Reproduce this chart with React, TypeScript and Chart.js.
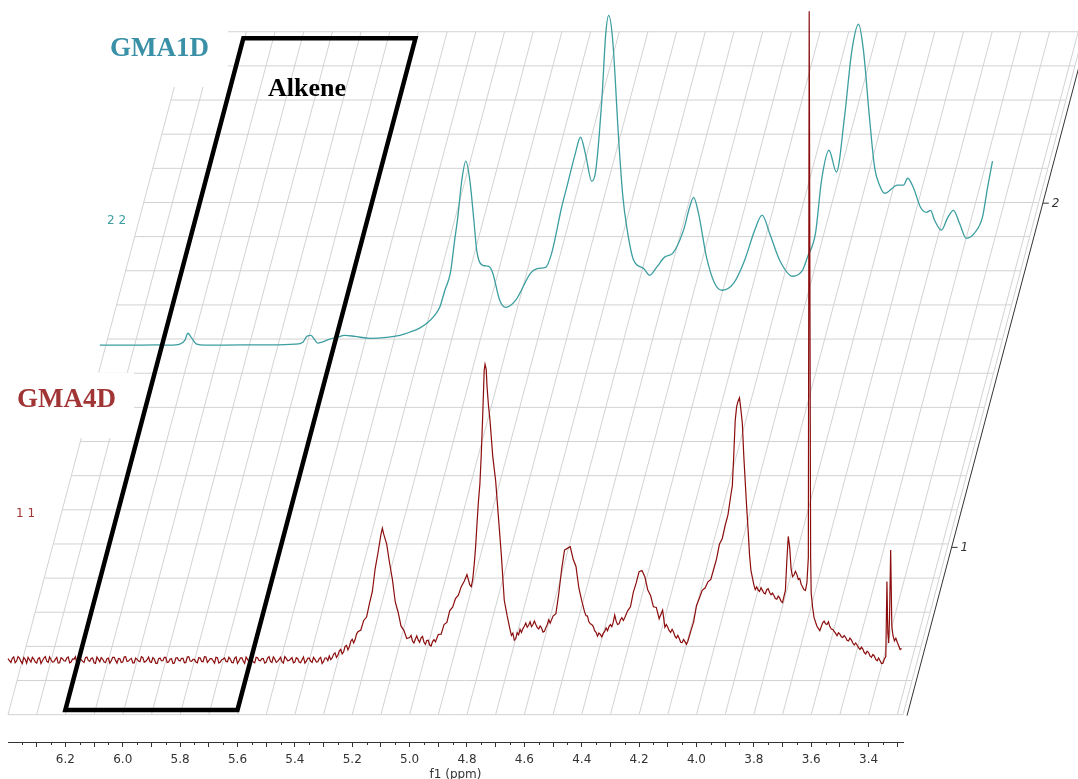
import { useEffect, useRef } from 'react';
import { Chart, registerables } from 'chart.js';

Chart.register(...registerables);

// f1 chemical-shift window (ppm), drawn high → low from left to right
const PPM_MAX = 6.4;
const PPM_MIN = 3.28;

// intensity window of the front trace (baseline = 0)
const INT_MIN = -0.24;
const INT_MAX = 1.933;

// stacking offset of the second trace (depth direction)
const STACK_SHIFT_PPM = 0.317;
const STACK_SHIFT_INT = 0.922;

// x-axis ticks
const MAJOR_TICKS = [6.3, 6.2, 6.1, 6.0, 5.9, 5.8, 5.7, 5.6, 5.5, 5.4, 5.3, 5.2, 5.1, 5.0, 4.9, 4.8, 4.7, 4.6, 4.5, 4.4, 4.3, 4.2, 4.1, 4.0, 3.9, 3.8, 3.7, 3.6, 3.5, 3.4, 3.3];
const MINOR_TICKS = [6.35, 6.25, 6.15, 6.05, 5.95, 5.85, 5.75, 5.65, 5.55, 5.45, 5.35, 5.25, 5.15, 5.05, 4.95, 4.85, 4.75, 4.65, 4.55, 4.45, 4.35, 4.25, 4.15, 4.05, 3.95, 3.85, 3.75, 3.65, 3.55, 3.45, 3.35];
const TICK_LABELS = ['6.2', '6.0', '5.8', '5.6', '5.4', '5.2', '5.0', '4.8', '4.6', '4.4', '4.2', '4.0', '3.8', '3.6', '3.4'];

// stacked-plot floor grid: columns in ppm, rows in intensity
const GRID_COLUMNS = [6.4, ...MAJOR_TICKS, 3.28];
const GRID_ROWS = [-0.16, -0.06, 0.04, 0.14, 0.24, 0.34, 0.44, 0.54, 0.64, 0.74, 0.84, 0.94, 1.04, 1.14, 1.24, 1.34, 1.44, 1.54, 1.64, 1.74, 1.84];

// depth axis on the right
const STACK_LABELS = ['1', '2'];
const STACK_TICK_LEVELS = [0.33, 1.338];

// highlighted alkene window
const ALKENE_PPM = [6.2, 5.6];
const ALKENE_INT = [-0.146, 1.821];

// GMA4D spectrum (front), [ppm, intensity]
const GMA4D: [number, number][] = [
  [6.400, .004], [6.395, -.002], [6.390, -.007], [6.385, .005], [6.380, .009], [6.375, -.008], [6.370, -.003], [6.365, .010], [6.360, .006], [6.355, -.004],
  [6.350, -.010], [6.345, .007], [6.340, .002], [6.335, -.009], [6.330, .008], [6.325, .001], [6.320, -.006], [6.315, .008], [6.310, .003], [6.305, -.006],
  [6.300, -.009], [6.295, .004], [6.290, .007], [6.285, -.010], [6.280, -.002], [6.275, .006], [6.270, .010], [6.265, -.003], [6.260, -.007], [6.255, .009],
  [6.250, .001], [6.245, -.006], [6.240, -.005], [6.235, .002], [6.230, .008], [6.225, -.009], [6.220, -.008], [6.215, .007], [6.210, .004], [6.205, -.002],
  [6.200, -.003], [6.195, .006], [6.190, .009], [6.185, -.008], [6.180, -.006], [6.175, .003], [6.170, .002], [6.165, .010], [6.160, -.010], [6.155, -.005],
  [6.150, .006], [6.145, .001], [6.140, -.004], [6.135, -.007], [6.130, .007], [6.125, .009], [6.120, -.001], [6.115, -.004], [6.110, .005], [6.105, .006],
  [6.100, -.008], [6.095, -.010], [6.090, .009], [6.085, .002], [6.080, -.005], [6.075, .007], [6.070, .003], [6.065, -.006], [6.060, -.007], [6.055, .004],
  [6.050, .006], [6.045, -.009], [6.040, -.002], [6.035, .008], [6.030, .008], [6.025, -.001], [6.020, -.009], [6.015, .005], [6.010, .004], [6.005, -.007],
  [6.000, -.006], [5.995, .009], [5.990, .010], [5.985, -.004], [5.980, -.003], [5.975, .002], [5.970, .005], [5.965, -.008], [5.960, -.008], [5.955, .006],
  [5.950, .002], [5.945, -.003], [5.940, -.005], [5.935, .010], [5.930, .007], [5.925, -.006], [5.920, -.004], [5.915, .001], [5.910, .009], [5.905, -.005],
  [5.900, -.007], [5.895, .007], [5.890, .003], [5.885, -.009], [5.880, -.010], [5.875, .004], [5.870, .006], [5.865, -.002], [5.860, -.002], [5.855, .008],
  [5.850, .008], [5.845, -.007], [5.840, -.006], [5.835, .003], [5.830, .004], [5.825, -.010], [5.820, -.009], [5.815, .006], [5.810, .007], [5.805, -.001],
  [5.800, -.003], [5.795, .005], [5.790, .005], [5.785, -.008], [5.780, -.007], [5.775, .009], [5.770, .010], [5.765, -.003], [5.760, -.004], [5.755, .002],
  [5.750, .002], [5.745, -.006], [5.740, -.008], [5.735, .007], [5.730, .006], [5.725, -.004], [5.720, -.005], [5.715, .010], [5.710, .009], [5.705, -.007],
  [5.700, -.002], [5.695, .004], [5.690, .004], [5.685, -.002], [5.680, -.009], [5.675, .008], [5.670, .007], [5.665, -.009], [5.660, -.006], [5.655, .001],
  [5.650, .003], [5.645, .006], [5.640, -.004], [5.635, -.005], [5.630, .008], [5.625, .003], [5.620, -.007], [5.615, -.008], [5.610, .005], [5.605, .009],
  [5.600, -.010], [5.595, -.003], [5.590, .006], [5.585, .007], [5.580, -.003], [5.575, -.010], [5.570, .009], [5.565, .002], [5.560, -.005], [5.555, .005],
  [5.550, .002], [5.545, -.006], [5.540, -.008], [5.535, .008], [5.530, .007], [5.525, -.001], [5.520, -.002], [5.515, .004], [5.510, .004], [5.505, -.009],
  [5.500, -.006], [5.495, .006], [5.490, .010], [5.485, -.004], [5.480, -.007], [5.475, .009], [5.470, .003], [5.465, -.007], [5.460, -.004], [5.455, .002],
  [5.450, .008], [5.445, -.005], [5.440, -.009], [5.435, .010], [5.430, .005], [5.425, -.002], [5.420, -.001], [5.415, .003], [5.410, .007], [5.405, -.008],
  [5.400, -.006], [5.395, .007], [5.390, .004], [5.385, -.006], [5.380, -.008], [5.375, .001], [5.370, .009], [5.365, -.009], [5.360, -.003], [5.355, .005],
  [5.350, .006], [5.345, -.003], [5.340, -.007], [5.335, .008], [5.330, .002], [5.325, -.006], [5.320, -.005], [5.315, .004], [5.310, .008], [5.305, -.010],
  [5.300, -.004], [5.295, .006], [5.290, .006], [5.285, -.002],
  [5.28, .012], [5.275, .001], [5.27, .006], [5.265, .017], [5.26, .021], [5.255, .008], [5.25, .014], [5.245, .027], [5.24, .031], [5.235, .018],
  [5.23, .024], [5.225, .040], [5.22, .043], [5.215, .030], [5.21, .039], [5.205, .055], [5.20, .061], [5.195, .050], [5.19, .060], [5.185, .076],
  [5.18, .083], [5.17, .088], [5.16, .116], [5.15, .126], [5.14, .165], [5.13, .200], [5.12, .268], [5.11, .315], [5.10, .367], [5.095, .386],
  [5.09, .368], [5.08, .340], [5.07, .285], [5.06, .236], [5.05, .170], [5.04, .140], [5.03, .100], [5.02, .087], [5.01, .063], [5.00, .066],
  [4.995, .072], [4.99, .056], [4.985, .050], [4.98, .061], [4.975, .071], [4.97, .059], [4.965, .052], [4.96, .065], [4.955, .069], [4.95, .053],
  [4.945, .046], [4.94, .057], [4.935, .058], [4.93, .044], [4.925, .041], [4.92, .054], [4.915, .060], [4.91, .053], [4.905, .064], [4.90, .075],
  [4.89, .076], [4.88, .104], [4.87, .110], [4.86, .145], [4.85, .155], [4.84, .180], [4.83, .190], [4.82, .215], [4.81, .230], [4.80, .250],
  [4.79, .220], [4.785, .215], [4.78, .236], [4.775, .278], [4.77, .33], [4.765, .40], [4.76, .465], [4.755, .515], [4.75, .605], [4.745, .72],
  [4.74, .848], [4.737, .866], [4.733, .852], [4.73, .80], [4.725, .745], [4.72, .705], [4.71, .595], [4.70, .525], [4.69, .415], [4.68, .305],
  [4.67, .175], [4.66, .130], [4.65, .090], [4.645, .072], [4.64, .079], [4.635, .058], [4.63, .063], [4.625, .080], [4.62, .074], [4.615, .090],
  [4.61, .081], [4.605, .092], [4.60, .099], [4.595, .108], [4.59, .096], [4.585, .102], [4.58, .112], [4.575, .098], [4.57, .104], [4.565, .114],
  [4.56, .104], [4.555, .095], [4.55, .091], [4.545, .100], [4.54, .094], [4.535, .082], [4.53, .084], [4.525, .095], [4.52, .104], [4.515, .118],
  [4.51, .108], [4.50, .129], [4.49, .136], [4.48, .195], [4.47, .266], [4.46, .322], [4.45, .327], [4.44, .332], [4.43, .296], [4.42, .274],
  [4.41, .211], [4.40, .174], [4.39, .141], [4.385, .130], [4.38, .129], [4.375, .112], [4.37, .106], [4.365, .104], [4.36, .099], [4.355, .086],
  [4.35, .081], [4.345, .070], [4.34, .079], [4.335, .075], [4.33, .068], [4.325, .078], [4.32, .084], [4.315, .094], [4.31, .086], [4.305, .098],
  [4.30, .104], [4.295, .098], [4.29, .111], [4.285, .132], [4.28, .114], [4.275, .104], [4.27, .106], [4.265, .118], [4.26, .124], [4.255, .116],
  [4.25, .124], [4.24, .144], [4.23, .156], [4.22, .199], [4.21, .226], [4.20, .259], [4.19, .262], [4.18, .244], [4.17, .206], [4.16, .189],
  [4.15, .156], [4.14, .154], [4.13, .121], [4.118, .146], [4.11, .096], [4.105, .104], [4.10, .096], [4.095, .086], [4.09, .081], [4.085, .090],
  [4.08, .082], [4.075, .070], [4.07, .064], [4.065, .072], [4.06, .063], [4.055, .052], [4.05, .051], [4.045, .060], [4.04, .054], [4.035, .046],
  [4.03, .055], [4.02, .084], [4.01, .111], [4.00, .159], [3.99, .181], [3.98, .204], [3.97, .211], [3.96, .229], [3.95, .236], [3.94, .266],
  [3.93, .296], [3.92, .339], [3.91, .356], [3.90, .394], [3.89, .426], [3.88, .484], [3.875, .51], [3.87, .60], [3.865, .70], [3.86, .742],
  [3.855, .758], [3.85, .768], [3.845, .733], [3.84, .692], [3.835, .598], [3.83, .522], [3.825, .448], [3.82, .382], [3.815, .308], [3.81, .262],
  [3.80, .221], [3.795, .206], [3.79, .214], [3.785, .205], [3.78, .201], [3.775, .212], [3.77, .204], [3.765, .196], [3.76, .194], [3.755, .206],
  [3.75, .209], [3.745, .198], [3.74, .191], [3.735, .196], [3.73, .189], [3.725, .180], [3.72, .178], [3.715, .187], [3.71, .182], [3.705, .172],
  [3.70, .168], [3.69, .204], [3.685, .29], [3.68, .362], [3.675, .33], [3.67, .266], [3.665, .244], [3.66, .249], [3.655, .260], [3.65, .251],
  [3.645, .236], [3.64, .239], [3.635, .222], [3.63, .214], [3.625, .206], [3.62, .204], [3.615, .226], [3.61, .30], [3.607, 1.90], [3.605, 1.90],
  [3.602, .30], [3.60, .196], [3.595, .154], [3.59, .124], [3.58, .099], [3.57, .086], [3.56, .109], [3.555, .114], [3.55, .106], [3.545, .104],
  [3.54, .112], [3.535, .098], [3.53, .091], [3.525, .090], [3.52, .084], [3.515, .078], [3.51, .071], [3.505, .080], [3.50, .076], [3.495, .068],
  [3.49, .066], [3.485, .072], [3.48, .066], [3.475, .058], [3.47, .056], [3.465, .064], [3.46, .059], [3.455, .050], [3.45, .044], [3.445, .050],
  [3.44, .044], [3.435, .036], [3.43, .031], [3.425, .038], [3.42, .032], [3.415, .022], [3.41, .018], [3.405, .026], [3.40, .022], [3.395, .012],
  [3.39, .008], [3.385, .016], [3.38, .012], [3.375, .002], [3.37, -.002], [3.365, .006], [3.36, -.002], [3.355, -.010], [3.35, -.009], [3.345, .003],
  [3.34, .010], [3.336, .230], [3.333, .080], [3.330, .050], [3.327, .120], [3.323, .322], [3.319, .100], [3.315, .072], [3.31, .056], [3.305, .064],
  [3.30, .052], [3.295, .042], [3.29, .031], [3.285, .034],
];

// GMA1D spectrum (back), [ppm, intensity]
const GMA1D: [number, number][] = [
  [6.397, 0], [6.30, 0], [6.20, 0.001], [6.153, 0], [6.118, 0.003], [6.100, 0.015], [6.090, 0.035], [6.076, 0.020], [6.059, 0.003], [6.031, 0],
  [5.90, 0.001], [5.80, 0.001], [5.717, 0.003], [5.689, 0.009], [5.675, 0.026], [5.661, 0.029], [5.647, 0.015], [5.637, 0.006], [5.623, 0.009], [5.595, 0.018],
  [5.571, 0.023], [5.543, 0.029], [5.508, 0.026], [5.456, 0.020], [5.397, 0.023], [5.351, 0.029], [5.317, 0.038], [5.282, 0.050], [5.257, 0.064], [5.229, 0.088],
  [5.212, 0.111], [5.194, 0.161], [5.175, 0.211], [5.160, 0.307], [5.149, 0.375], [5.135, 0.483], [5.121, 0.539], [5.107, 0.483], [5.093, 0.366], [5.083, 0.278],
  [5.062, 0.234], [5.041, 0.231], [5.027, 0.211], [5.003, 0.132], [4.982, 0.111], [4.947, 0.132], [4.895, 0.211], [4.867, 0.225], [4.843, 0.228], [4.822, 0.269],
  [4.787, 0.404], [4.769, 0.463], [4.741, 0.556], [4.721, 0.609], [4.703, 0.556], [4.682, 0.480], [4.668, 0.512], [4.647, 0.717], [4.633, 0.914], [4.623, 0.966],
  [4.609, 0.893], [4.588, 0.600], [4.574, 0.439], [4.560, 0.346], [4.536, 0.249], [4.501, 0.225], [4.480, 0.205], [4.456, 0.228], [4.428, 0.258], [4.400, 0.269],
  [4.362, 0.337], [4.341, 0.404], [4.327, 0.433], [4.310, 0.387], [4.282, 0.258], [4.254, 0.182], [4.229, 0.161], [4.187, 0.182], [4.149, 0.249], [4.114, 0.337],
  [4.088, 0.381], [4.062, 0.328], [4.027, 0.249], [3.982, 0.202], [3.947, 0.220], [3.930, 0.258], [3.902, 0.328], [3.881, 0.483], [3.855, 0.571], [3.829, 0.507],
  [3.801, 0.668], [3.775, 0.864], [3.752, 0.940], [3.735, 0.864], [3.714, 0.668], [3.696, 0.521], [3.679, 0.469], [3.661, 0.445], [3.616, 0.469], [3.595, 0.469],
  [3.581, 0.489], [3.560, 0.460], [3.536, 0.404], [3.515, 0.389], [3.501, 0.395], [3.487, 0.366], [3.463, 0.337], [3.442, 0.372], [3.421, 0.395], [3.400, 0.357],
  [3.376, 0.313], [3.348, 0.328], [3.320, 0.375], [3.302, 0.463], [3.285, 0.539],
];

const RED = '#8b0d0d';
const TEAL = '#3c9ea0';
const GRID_COLOR = '#d2d2d2';
const AXIS_COLOR = '#333333';
const SKEW = 0.265; // horizontal run of the depth direction per pixel of rise

const stackedPlotPlugin = {
  id: 'stackedPlot',
  beforeDatasetsDraw(chart: any) {
    const { ctx } = chart;
    const xs = chart.scales.x;
    const ys = chart.scales.y;
    const y0 = ys.getPixelForValue(GRID_ROWS[0]);
    const yTop = ys.getPixelForValue(GRID_ROWS[GRID_ROWS.length - 1]);
    const xL = xs.getPixelForValue(PPM_MAX);
    const xR = xs.getPixelForValue(PPM_MIN);
    ctx.save();
    ctx.strokeStyle = GRID_COLOR;
    ctx.lineWidth = 1;
    ctx.beginPath();
    GRID_ROWS.forEach((v) => {
      const y = ys.getPixelForValue(v);
      const d = (y0 - y) * SKEW;
      ctx.moveTo(xL + d, y);
      ctx.lineTo(xR + d, y);
    });
    GRID_COLUMNS.forEach((p) => {
      const x = xs.getPixelForValue(p);
      ctx.moveTo(x, y0);
      ctx.lineTo(x + (y0 - yTop) * SKEW, yTop);
    });
    ctx.stroke();
    // white backing behind the sample names
    ctx.fillStyle = '#ffffff';
    ctx.fillRect(0, 372.5, 134, 65.5);
    ctx.fillRect(90, 0, 138, 87);
    ctx.restore();
  },
  afterDatasetsDraw(chart: any) {
    const { ctx } = chart;
    const xs = chart.scales.x;
    const ys = chart.scales.y;
    const y0 = ys.getPixelForValue(GRID_ROWS[0]);
    const xR = xs.getPixelForValue(PPM_MIN);
    ctx.save();

    // alkene window
    const xb1 = xs.getPixelForValue(ALKENE_PPM[0]);
    const xb2 = xs.getPixelForValue(ALKENE_PPM[1]);
    const yb = ys.getPixelForValue(ALKENE_INT[0]);
    const yt = ys.getPixelForValue(ALKENE_INT[1]);
    const d = (yb - yt) * SKEW;
    ctx.strokeStyle = '#000000';
    ctx.lineWidth = 4.5;
    ctx.lineJoin = 'miter';
    ctx.beginPath();
    ctx.moveTo(xb1, yb);
    ctx.lineTo(xb1 + d, yt);
    ctx.lineTo(xb2 + d, yt);
    ctx.lineTo(xb2, yb);
    ctx.closePath();
    ctx.stroke();

    // labels
    ctx.textAlign = 'left';
    ctx.textBaseline = 'alphabetic';
    ctx.font = 'bold 27px "Liberation Serif", "Times New Roman", serif';
    ctx.fillStyle = '#3a90a6';
    ctx.fillText('GMA1D', 110, 56);
    ctx.fillStyle = '#a13434';
    ctx.fillText('GMA4D', 17, 407);
    ctx.font = 'bold 26px "Liberation Serif", "Times New Roman", serif';
    ctx.fillStyle = '#000000';
    ctx.fillText('Alkene', 268, 96);

    ctx.font = '12px "DejaVu Sans", sans-serif';
    ctx.textBaseline = 'middle';
    ctx.fillStyle = TEAL;
    ctx.fillText('2 2', 107, 221);
    ctx.fillStyle = '#a13434';
    ctx.fillText('1 1', 16, 514);

    // depth axis
    const ax0 = xR + 4;
    const ay0 = y0 + 1;
    ctx.strokeStyle = AXIS_COLOR;
    ctx.lineWidth = 1;
    ctx.beginPath();
    ctx.moveTo(ax0, ay0);
    ctx.lineTo(ax0 + (ay0 + 5) * SKEW, -5);
    ctx.stroke();
    ctx.font = 'italic 12px "DejaVu Sans", sans-serif';
    ctx.fillStyle = AXIS_COLOR;
    STACK_TICK_LEVELS.forEach((v, i) => {
      const y = ys.getPixelForValue(v);
      const x = ax0 + (ay0 - y) * SKEW;
      ctx.beginPath();
      ctx.moveTo(x, y);
      ctx.lineTo(x + 6, y);
      ctx.stroke();
      ctx.fillText(STACK_LABELS[i], x + 9, y + 1);
    });

    // minor ticks on the f1 axis
    const axisY = chart.chartArea.bottom;
    ctx.beginPath();
    MINOR_TICKS.forEach((p) => {
      const x = Math.round(xs.getPixelForValue(p)) + 0.5;
      ctx.moveTo(x, axisY);
      ctx.lineTo(x, axisY + 3);
    });
    ctx.stroke();
    ctx.restore();
  },
};

export default function App() {
  const canvasRef = useRef<HTMLCanvasElement>(null);

  useEffect(() => {
    const canvas = canvasRef.current;
    if (!canvas) return;
    const chart = new Chart(canvas, {
      type: 'line',
      data: {
        datasets: [
          {
            label: 'GMA4D',
            data: GMA4D.map(([x, y]) => ({ x, y })),
            xAxisID: 'x',
            yAxisID: 'y',
            borderColor: RED,
            borderWidth: 1.2,
            pointRadius: 0,
            tension: 0,
            clip: false,
          },
          {
            label: 'GMA1D',
            data: GMA1D.map(([x, y]) => ({ x, y })),
            xAxisID: 'x2',
            yAxisID: 'y2',
            borderColor: TEAL,
            borderWidth: 1.3,
            pointRadius: 0,
            cubicInterpolationMode: 'monotone',
            clip: false,
          },
        ],
      },
      options: {
        responsive: false,
        devicePixelRatio: 1,
        animation: false,
        events: [],
        layout: { autoPadding: false, padding: { left: 8, right: 175, top: 0, bottom: 0 } },
        plugins: { legend: { display: false }, tooltip: { enabled: false } },
        scales: {
          x: {
            type: 'linear',
            position: 'bottom',
            min: PPM_MIN,
            max: PPM_MAX,
            reverse: true,
            border: { display: true, color: AXIS_COLOR, width: 1 },
            grid: { display: true, drawOnChartArea: false, drawTicks: true, tickLength: 5, color: AXIS_COLOR },
            afterBuildTicks: (scale: any) => {
              scale.ticks = MAJOR_TICKS.map((value) => ({ value }));
            },
            afterFit: (scale: any) => {
              scale.height = 48;
            },
            ticks: {
              autoSkip: false,
              maxRotation: 0,
              minRotation: 0,
              padding: 6,
              color: AXIS_COLOR,
              font: { family: '"DejaVu Sans", sans-serif', size: 12 },
              callback: (value: any) => {
                const s = Number(value).toFixed(1);
                return TICK_LABELS.includes(s) ? s : '';
              },
            },
            title: {
              display: true,
              text: 'f1 (ppm)',
              color: AXIS_COLOR,
              font: { family: '"DejaVu Sans", sans-serif', size: 12 },
              padding: { top: 0, bottom: 8 },
            },
          },
          y: { type: 'linear', position: 'left', display: false, min: INT_MIN, max: INT_MAX },
          x2: {
            type: 'linear',
            position: 'bottom',
            display: false,
            min: PPM_MIN + STACK_SHIFT_PPM,
            max: PPM_MAX + STACK_SHIFT_PPM,
            reverse: true,
          },
          y2: {
            type: 'linear',
            position: 'left',
            display: false,
            min: INT_MIN - STACK_SHIFT_INT,
            max: INT_MAX - STACK_SHIFT_INT,
          },
        },
      } as any,
      plugins: [stackedPlotPlugin],
    });
    return () => chart.destroy();
  }, []);

  return (
    <div
      style={{
        position: 'fixed',
        left: 0,
        top: 0,
        width: 1078,
        height: 779,
        overflow: 'hidden',
        background: '#ffffff',
      }}
    >
      <canvas ref={canvasRef} width={1078} height={790} style={{ display: 'block', width: 1078, height: 790 }} />
    </div>
  );
}
